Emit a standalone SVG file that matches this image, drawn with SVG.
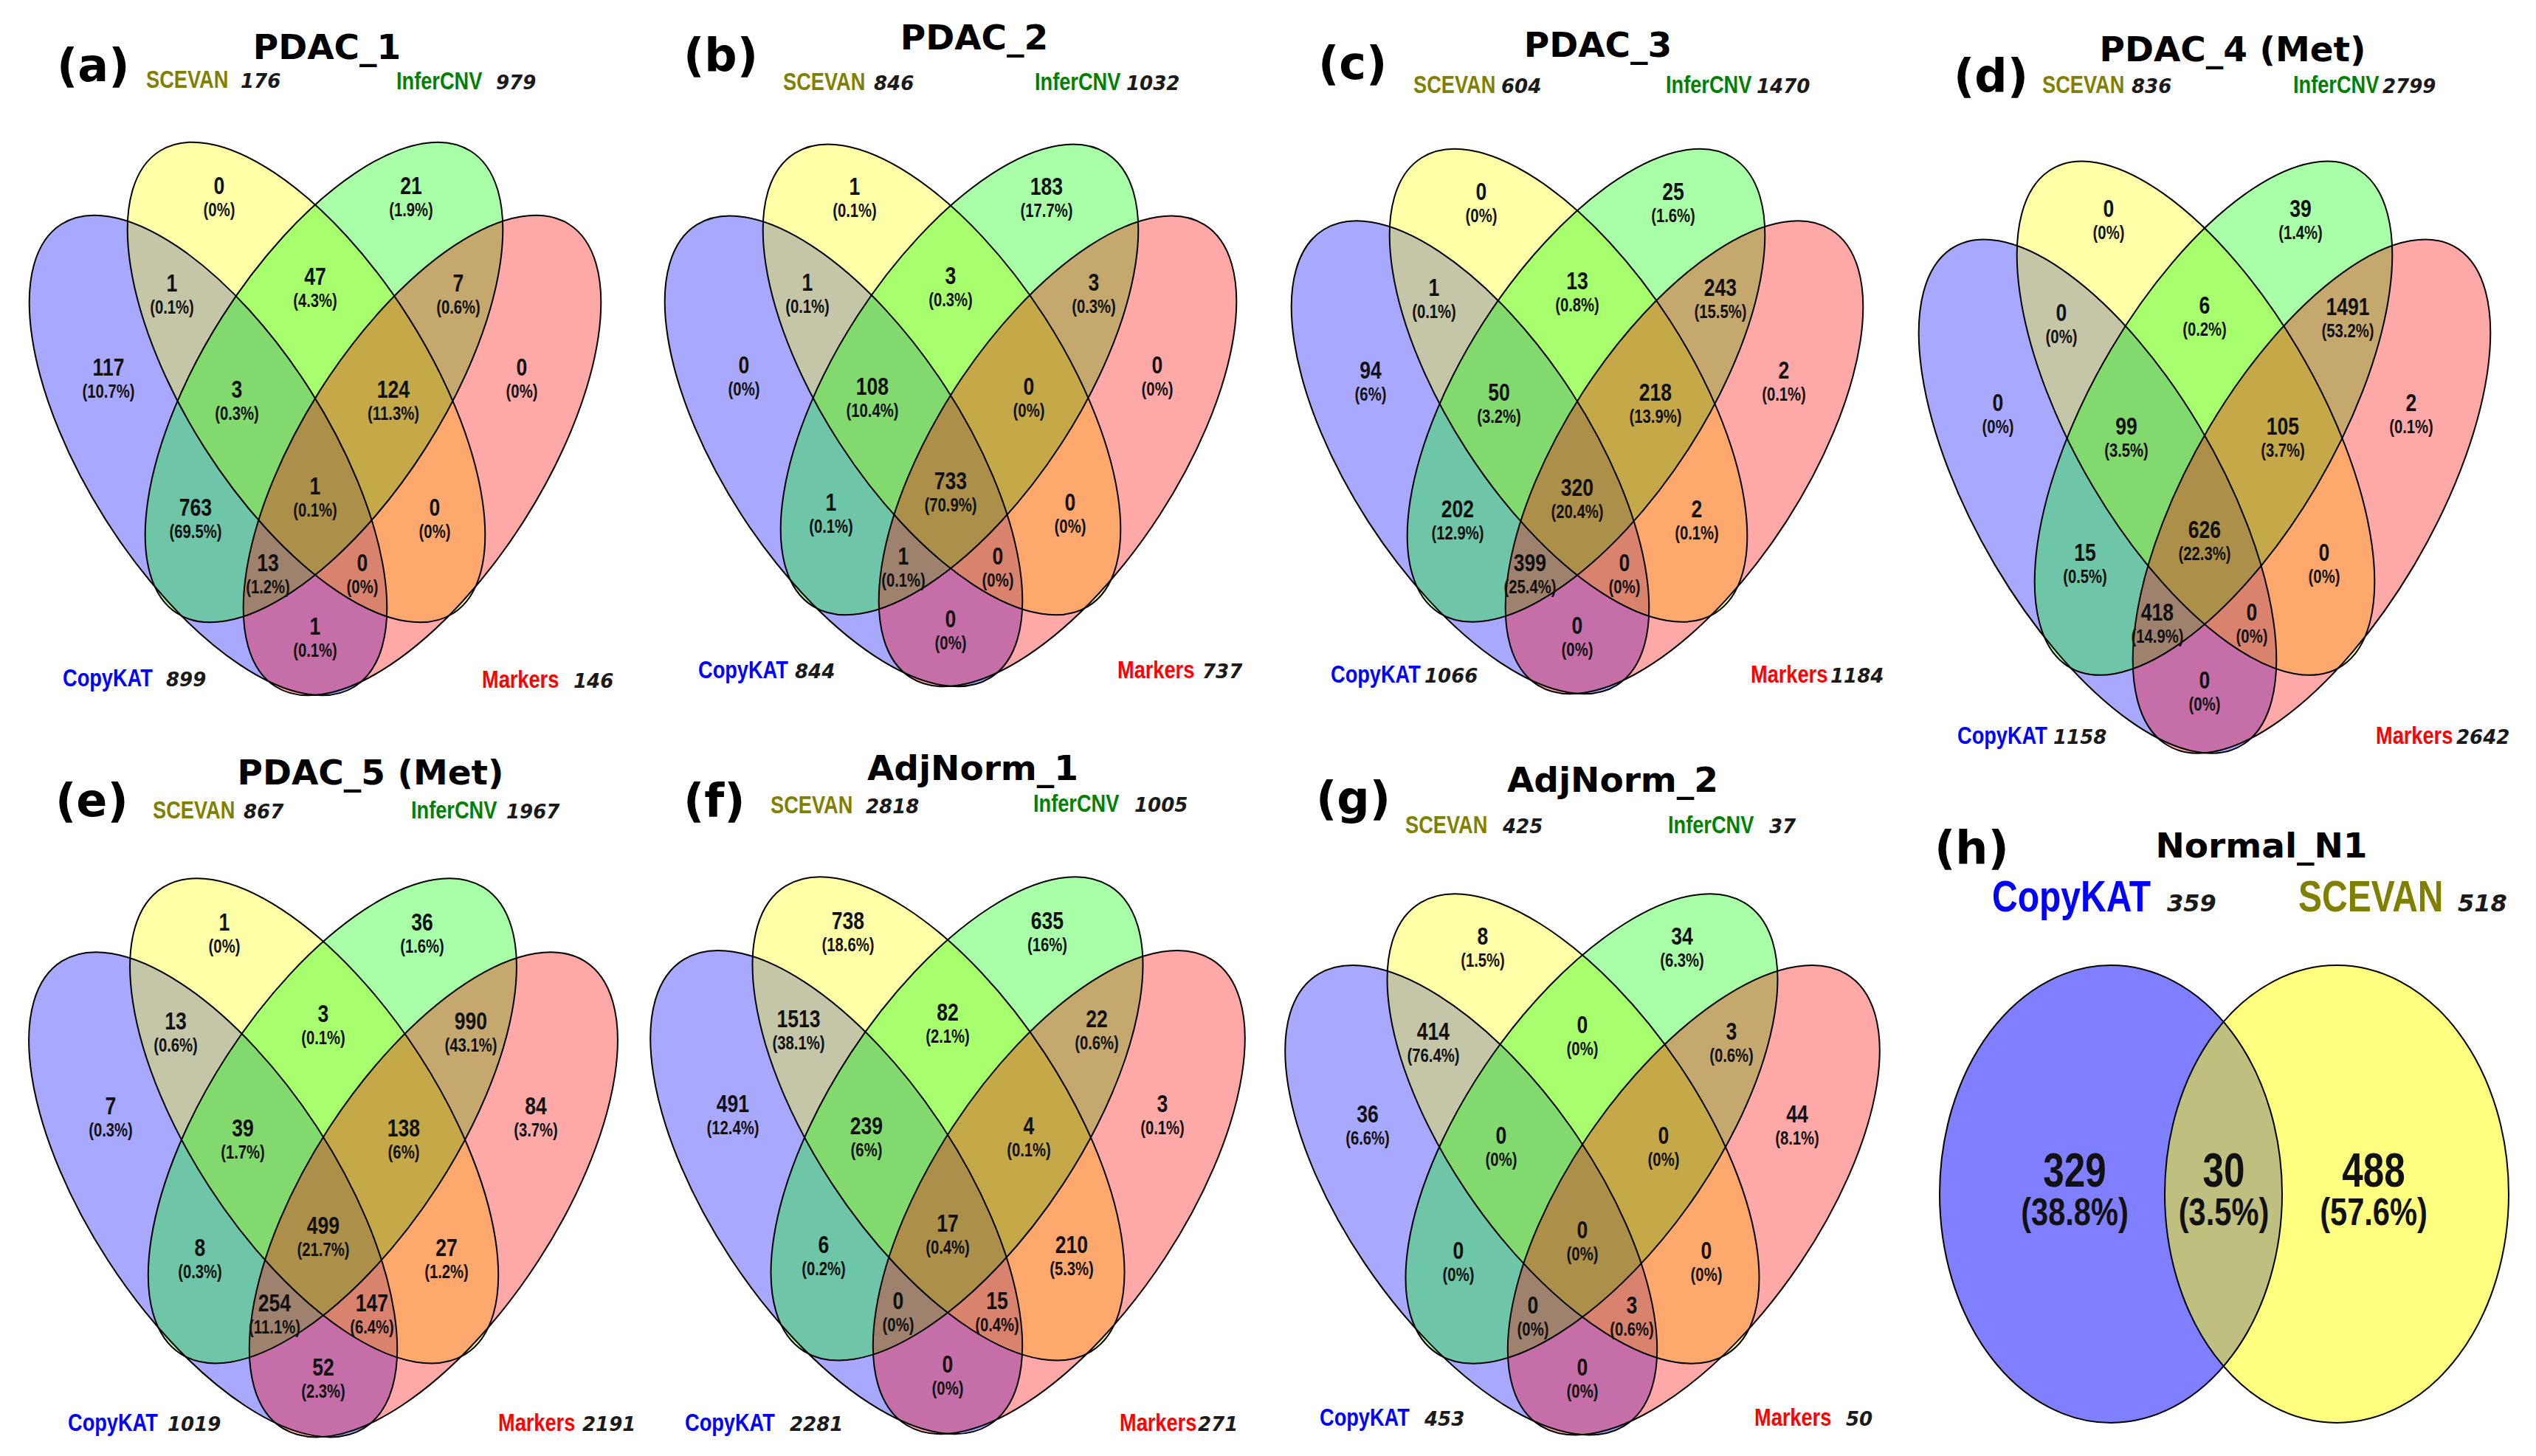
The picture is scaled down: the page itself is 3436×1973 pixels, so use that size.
<svg xmlns="http://www.w3.org/2000/svg" xmlns:xlink="http://www.w3.org/1999/xlink" width="3436" height="1973" viewBox="0 0 3436 1973">
<style>
.f{stroke:none;fill-opacity:0.34}
.o{fill:none;stroke:#000;stroke-width:2;vector-effect:non-scaling-stroke}
.cb{fill:#0000ff}.cy{fill:#ffff00}.cg{fill:#00ff00}.cr{fill:#ff0000}
.t{font-family:"DejaVu Sans",sans-serif;font-weight:bold;font-size:47px;text-anchor:middle;fill:#000}
.L{font-family:"DejaVu Sans",sans-serif;font-weight:bold;font-size:62px;fill:#000}
.c{font-family:"Liberation Sans",Arial,sans-serif;font-weight:bold;font-size:34px}
.k{font-family:"DejaVu Sans",sans-serif;font-weight:bold;font-style:italic;font-size:26px;fill:#1a1a1a}
.n{font-family:"Liberation Sans",Arial,sans-serif;font-weight:bold;font-size:34px;text-anchor:middle;fill:#111}
.p{font-size:26px}
.sv{fill:#808000}.ic{fill:#008000}.ck{fill:#0000ff}.mk{fill:#ff0000}
.n2{font-family:"Liberation Sans",Arial,sans-serif;font-weight:bold;font-size:64px;text-anchor:middle;fill:#111}
.p2{font-size:52px}
.c2{font-family:"Liberation Sans",Arial,sans-serif;font-weight:bold;font-size:60px}
</style>
<defs>
<g id="v4">
<ellipse class="f cb" cx="-145" cy="80" rx="371" ry="164" transform="rotate(57.6 -145 80)"/>
<ellipse class="f cy" cx="-12" cy="-19" rx="371" ry="164" transform="rotate(57.6 -12 -19)"/>
<ellipse class="f cg" cx="12" cy="-19" rx="371" ry="164" transform="rotate(-57.6 12 -19)"/>
<ellipse class="f cr" cx="145" cy="80" rx="371" ry="164" transform="rotate(-57.6 145 80)"/>
<ellipse class="o" cx="-145" cy="80" rx="371" ry="164" transform="rotate(57.6 -145 80)"/>
<ellipse class="o" cx="-12" cy="-19" rx="371" ry="164" transform="rotate(57.6 -12 -19)"/>
<ellipse class="o" cx="12" cy="-19" rx="371" ry="164" transform="rotate(-57.6 12 -19)"/>
<ellipse class="o" cx="145" cy="80" rx="371" ry="164" transform="rotate(-57.6 145 80)"/>
</g>
</defs>
<rect width="3436" height="1973" fill="#fff"/>

<!-- Panel a -->
<g id="panel-a">
<use xlink:href="#v4" href="#v4" transform="translate(427,537)"/>
<text class="L" x="77" y="110">(a)</text>
<text class="t" x="443" y="80">PDAC_1</text>
<text class="c sv" transform="translate(198,119) scale(.8,1)">SCEVAN</text><text class="k" x="326" y="119">176</text>
<text class="c ic" transform="translate(537,121) scale(.8,1)">InferCNV</text><text class="k" x="672" y="121">979</text>
<text class="c ck" transform="translate(85,930) scale(.8,1)">CopyKAT</text><text class="k" x="225" y="930">899</text>
<text class="c mk" transform="translate(653,932) scale(.8,1)">Markers</text><text class="k" x="777" y="932">146</text>
<g class="n" transform="translate(427,537)">
<text transform="translate(-130,-274) scale(.78,1)"><tspan x="0">0</tspan><tspan class="p" x="0" dy="30">(0%)</tspan></text>
<text transform="translate(130,-274) scale(.78,1)"><tspan x="0">21</tspan><tspan class="p" x="0" dy="30">(1.9%)</tspan></text>
<text transform="translate(-194,-142) scale(.78,1)"><tspan x="0">1</tspan><tspan class="p" x="0" dy="30">(0.1%)</tspan></text>
<text transform="translate(0,-151) scale(.78,1)"><tspan x="0">47</tspan><tspan class="p" x="0" dy="30">(4.3%)</tspan></text>
<text transform="translate(194,-142) scale(.78,1)"><tspan x="0">7</tspan><tspan class="p" x="0" dy="30">(0.6%)</tspan></text>
<text transform="translate(-280,-28) scale(.78,1)"><tspan x="0">117</tspan><tspan class="p" x="0" dy="30">(10.7%)</tspan></text>
<text transform="translate(-106,2) scale(.78,1)"><tspan x="0">3</tspan><tspan class="p" x="0" dy="30">(0.3%)</tspan></text>
<text transform="translate(106,2) scale(.78,1)"><tspan x="0">124</tspan><tspan class="p" x="0" dy="30">(11.3%)</tspan></text>
<text transform="translate(280,-28) scale(.78,1)"><tspan x="0">0</tspan><tspan class="p" x="0" dy="30">(0%)</tspan></text>
<text transform="translate(-162,162) scale(.78,1)"><tspan x="0">763</tspan><tspan class="p" x="0" dy="30">(69.5%)</tspan></text>
<text transform="translate(0,133) scale(.78,1)"><tspan x="0">1</tspan><tspan class="p" x="0" dy="30">(0.1%)</tspan></text>
<text transform="translate(162,162) scale(.78,1)"><tspan x="0">0</tspan><tspan class="p" x="0" dy="30">(0%)</tspan></text>
<text transform="translate(-64,237) scale(.78,1)"><tspan x="0">13</tspan><tspan class="p" x="0" dy="30">(1.2%)</tspan></text>
<text transform="translate(64,237) scale(.78,1)"><tspan x="0">0</tspan><tspan class="p" x="0" dy="30">(0%)</tspan></text>
<text transform="translate(0,323) scale(.78,1)"><tspan x="0">1</tspan><tspan class="p" x="0" dy="30">(0.1%)</tspan></text>
</g>
</g>

<!-- Panel b -->
<g id="panel-b">
<use xlink:href="#v4" href="#v4" transform="translate(1288,533) scale(1,0.98)"/>
<text class="L" x="926" y="96">(b)</text>
<text class="t" x="1320" y="67">PDAC_2</text>
<text class="c sv" transform="translate(1061,122) scale(.8,1)">SCEVAN</text><text class="k" x="1184" y="122">846</text>
<text class="c ic" transform="translate(1402,122) scale(.8,1)">InferCNV</text><text class="k" x="1526" y="122">1032</text>
<text class="c ck" transform="translate(946,919) scale(.8,1)">CopyKAT</text><text class="k" x="1077" y="919">844</text>
<text class="c mk" transform="translate(1514,919) scale(.8,1)">Markers</text><text class="k" x="1629" y="919">737</text>
<g class="n" transform="translate(1288,533)">
<text transform="translate(-130,-269) scale(.78,1)"><tspan x="0">1</tspan><tspan class="p" x="0" dy="30">(0.1%)</tspan></text>
<text transform="translate(130,-269) scale(.78,1)"><tspan x="0">183</tspan><tspan class="p" x="0" dy="30">(17.7%)</tspan></text>
<text transform="translate(-194,-139) scale(.78,1)"><tspan x="0">1</tspan><tspan class="p" x="0" dy="30">(0.1%)</tspan></text>
<text transform="translate(0,-148) scale(.78,1)"><tspan x="0">3</tspan><tspan class="p" x="0" dy="30">(0.3%)</tspan></text>
<text transform="translate(194,-139) scale(.78,1)"><tspan x="0">3</tspan><tspan class="p" x="0" dy="30">(0.3%)</tspan></text>
<text transform="translate(-280,-27) scale(.78,1)"><tspan x="0">0</tspan><tspan class="p" x="0" dy="30">(0%)</tspan></text>
<text transform="translate(-106,2) scale(.78,1)"><tspan x="0">108</tspan><tspan class="p" x="0" dy="30">(10.4%)</tspan></text>
<text transform="translate(106,2) scale(.78,1)"><tspan x="0">0</tspan><tspan class="p" x="0" dy="30">(0%)</tspan></text>
<text transform="translate(280,-27) scale(.78,1)"><tspan x="0">0</tspan><tspan class="p" x="0" dy="30">(0%)</tspan></text>
<text transform="translate(-162,159) scale(.78,1)"><tspan x="0">1</tspan><tspan class="p" x="0" dy="30">(0.1%)</tspan></text>
<text transform="translate(0,130) scale(.78,1)"><tspan x="0">733</tspan><tspan class="p" x="0" dy="30">(70.9%)</tspan></text>
<text transform="translate(162,159) scale(.78,1)"><tspan x="0">0</tspan><tspan class="p" x="0" dy="30">(0%)</tspan></text>
<text transform="translate(-64,232) scale(.78,1)"><tspan x="0">1</tspan><tspan class="p" x="0" dy="30">(0.1%)</tspan></text>
<text transform="translate(64,232) scale(.78,1)"><tspan x="0">0</tspan><tspan class="p" x="0" dy="30">(0%)</tspan></text>
<text transform="translate(0,317) scale(.78,1)"><tspan x="0">0</tspan><tspan class="p" x="0" dy="30">(0%)</tspan></text>
</g>
</g>

<!-- Panel c -->
<g id="panel-c">
<use xlink:href="#v4" href="#v4" transform="translate(2137,541) scale(1,0.985)"/>
<text class="L" x="1786" y="107">(c)</text>
<text class="t" x="2165" y="77">PDAC_3</text>
<text class="c sv" transform="translate(1915,126) scale(.8,1)">SCEVAN</text><text class="k" x="2034" y="126">604</text>
<text class="c ic" transform="translate(2257,126) scale(.8,1)">InferCNV</text><text class="k" x="2380" y="126">1470</text>
<text class="c ck" transform="translate(1803,925) scale(.8,1)">CopyKAT</text><text class="k" x="1930" y="925">1066</text>
<text class="c mk" transform="translate(2372,925) scale(.8,1)">Markers</text><text class="k" x="2480" y="925">1184</text>
<g class="n" transform="translate(2137,541)">
<text transform="translate(-130,-270) scale(.78,1)"><tspan x="0">0</tspan><tspan class="p" x="0" dy="30">(0%)</tspan></text>
<text transform="translate(130,-270) scale(.78,1)"><tspan x="0">25</tspan><tspan class="p" x="0" dy="30">(1.6%)</tspan></text>
<text transform="translate(-194,-140) scale(.78,1)"><tspan x="0">1</tspan><tspan class="p" x="0" dy="30">(0.1%)</tspan></text>
<text transform="translate(0,-149) scale(.78,1)"><tspan x="0">13</tspan><tspan class="p" x="0" dy="30">(0.8%)</tspan></text>
<text transform="translate(194,-140) scale(.78,1)"><tspan x="0">243</tspan><tspan class="p" x="0" dy="30">(15.5%)</tspan></text>
<text transform="translate(-280,-28) scale(.78,1)"><tspan x="0">94</tspan><tspan class="p" x="0" dy="30">(6%)</tspan></text>
<text transform="translate(-106,2) scale(.78,1)"><tspan x="0">50</tspan><tspan class="p" x="0" dy="30">(3.2%)</tspan></text>
<text transform="translate(106,2) scale(.78,1)"><tspan x="0">218</tspan><tspan class="p" x="0" dy="30">(13.9%)</tspan></text>
<text transform="translate(280,-28) scale(.78,1)"><tspan x="0">2</tspan><tspan class="p" x="0" dy="30">(0.1%)</tspan></text>
<text transform="translate(-162,160) scale(.78,1)"><tspan x="0">202</tspan><tspan class="p" x="0" dy="30">(12.9%)</tspan></text>
<text transform="translate(0,131) scale(.78,1)"><tspan x="0">320</tspan><tspan class="p" x="0" dy="30">(20.4%)</tspan></text>
<text transform="translate(162,160) scale(.78,1)"><tspan x="0">2</tspan><tspan class="p" x="0" dy="30">(0.1%)</tspan></text>
<text transform="translate(-64,233) scale(.78,1)"><tspan x="0">399</tspan><tspan class="p" x="0" dy="30">(25.4%)</tspan></text>
<text transform="translate(64,233) scale(.78,1)"><tspan x="0">0</tspan><tspan class="p" x="0" dy="30">(0%)</tspan></text>
<text transform="translate(0,318) scale(.78,1)"><tspan x="0">0</tspan><tspan class="p" x="0" dy="30">(0%)</tspan></text>
</g>
</g>

<!-- Panel d -->
<g id="panel-d">
<use xlink:href="#v4" href="#v4" transform="translate(2987,587) scale(1,1.07)"/>
<text class="L" x="2647" y="124">(d)</text>
<text class="t" x="3025" y="83">PDAC_4 (Met)</text>
<text class="c sv" transform="translate(2767,126) scale(.8,1)">SCEVAN</text><text class="k" x="2888" y="126">836</text>
<text class="c ic" transform="translate(3107,126) scale(.8,1)">InferCNV</text><text class="k" x="3228" y="126">2799</text>
<text class="c ck" transform="translate(2652,1008) scale(.8,1)">CopyKAT</text><text class="k" x="2782" y="1008">1158</text>
<text class="c mk" transform="translate(3219,1008) scale(.8,1)">Markers</text><text class="k" x="3328" y="1008">2642</text>
<g class="n" transform="translate(2987,587)">
<text transform="translate(-130,-293) scale(.78,1)"><tspan x="0">0</tspan><tspan class="p" x="0" dy="30">(0%)</tspan></text>
<text transform="translate(130,-293) scale(.78,1)"><tspan x="0">39</tspan><tspan class="p" x="0" dy="30">(1.4%)</tspan></text>
<text transform="translate(-194,-152) scale(.78,1)"><tspan x="0">0</tspan><tspan class="p" x="0" dy="30">(0%)</tspan></text>
<text transform="translate(0,-162) scale(.78,1)"><tspan x="0">6</tspan><tspan class="p" x="0" dy="30">(0.2%)</tspan></text>
<text transform="translate(194,-160) scale(.78,1)"><tspan x="0">1491</tspan><tspan class="p" x="0" dy="30">(53.2%)</tspan></text>
<text transform="translate(-280,-30) scale(.78,1)"><tspan x="0">0</tspan><tspan class="p" x="0" dy="30">(0%)</tspan></text>
<text transform="translate(-106,2) scale(.78,1)"><tspan x="0">99</tspan><tspan class="p" x="0" dy="30">(3.5%)</tspan></text>
<text transform="translate(106,2) scale(.78,1)"><tspan x="0">105</tspan><tspan class="p" x="0" dy="30">(3.7%)</tspan></text>
<text transform="translate(280,-30) scale(.78,1)"><tspan x="0">2</tspan><tspan class="p" x="0" dy="30">(0.1%)</tspan></text>
<text transform="translate(-162,173) scale(.78,1)"><tspan x="0">15</tspan><tspan class="p" x="0" dy="30">(0.5%)</tspan></text>
<text transform="translate(0,142) scale(.78,1)"><tspan x="0">626</tspan><tspan class="p" x="0" dy="30">(22.3%)</tspan></text>
<text transform="translate(162,173) scale(.78,1)"><tspan x="0">0</tspan><tspan class="p" x="0" dy="30">(0%)</tspan></text>
<text transform="translate(-64,254) scale(.78,1)"><tspan x="0">418</tspan><tspan class="p" x="0" dy="30">(14.9%)</tspan></text>
<text transform="translate(64,254) scale(.78,1)"><tspan x="0">0</tspan><tspan class="p" x="0" dy="30">(0%)</tspan></text>
<text transform="translate(0,346) scale(.78,1)"><tspan x="0">0</tspan><tspan class="p" x="0" dy="30">(0%)</tspan></text>
</g>
</g>

<!-- Panel e -->
<g id="panel-e">
<use xlink:href="#v4" href="#v4" transform="translate(438,1538) scale(1.03,1.01)"/>
<text class="L" x="75" y="1106">(e)</text>
<text class="t" x="502" y="1063">PDAC_5 (Met)</text>
<text class="c sv" transform="translate(207,1109) scale(.8,1)">SCEVAN</text><text class="k" x="330" y="1109">867</text>
<text class="c ic" transform="translate(557,1109) scale(.8,1)">InferCNV</text><text class="k" x="686" y="1109">1967</text>
<text class="c ck" transform="translate(92,1939) scale(.8,1)">CopyKAT</text><text class="k" x="227" y="1939">1019</text>
<text class="c mk" transform="translate(675,1939) scale(.8,1)">Markers</text><text class="k" x="789" y="1939">2191</text>
<g class="n" transform="translate(438,1538)">
<text transform="translate(-134,-277) scale(.78,1)"><tspan x="0">1</tspan><tspan class="p" x="0" dy="30">(0%)</tspan></text>
<text transform="translate(134,-277) scale(.78,1)"><tspan x="0">36</tspan><tspan class="p" x="0" dy="30">(1.6%)</tspan></text>
<text transform="translate(-200,-143) scale(.78,1)"><tspan x="0">13</tspan><tspan class="p" x="0" dy="30">(0.6%)</tspan></text>
<text transform="translate(0,-153) scale(.78,1)"><tspan x="0">3</tspan><tspan class="p" x="0" dy="30">(0.1%)</tspan></text>
<text transform="translate(200,-143) scale(.78,1)"><tspan x="0">990</tspan><tspan class="p" x="0" dy="30">(43.1%)</tspan></text>
<text transform="translate(-288,-28) scale(.78,1)"><tspan x="0">7</tspan><tspan class="p" x="0" dy="30">(0.3%)</tspan></text>
<text transform="translate(-109,2) scale(.78,1)"><tspan x="0">39</tspan><tspan class="p" x="0" dy="30">(1.7%)</tspan></text>
<text transform="translate(109,2) scale(.78,1)"><tspan x="0">138</tspan><tspan class="p" x="0" dy="30">(6%)</tspan></text>
<text transform="translate(288,-28) scale(.78,1)"><tspan x="0">84</tspan><tspan class="p" x="0" dy="30">(3.7%)</tspan></text>
<text transform="translate(-167,164) scale(.78,1)"><tspan x="0">8</tspan><tspan class="p" x="0" dy="30">(0.3%)</tspan></text>
<text transform="translate(0,134) scale(.78,1)"><tspan x="0">499</tspan><tspan class="p" x="0" dy="30">(21.7%)</tspan></text>
<text transform="translate(167,164) scale(.78,1)"><tspan x="0">27</tspan><tspan class="p" x="0" dy="30">(1.2%)</tspan></text>
<text transform="translate(-66,239) scale(.78,1)"><tspan x="0">254</tspan><tspan class="p" x="0" dy="30">(11.1%)</tspan></text>
<text transform="translate(66,239) scale(.78,1)"><tspan x="0">147</tspan><tspan class="p" x="0" dy="30">(6.4%)</tspan></text>
<text transform="translate(0,326) scale(.78,1)"><tspan x="0">52</tspan><tspan class="p" x="0" dy="30">(2.3%)</tspan></text>
</g>
</g>

<!-- Panel f -->
<g id="panel-f">
<use xlink:href="#v4" href="#v4" transform="translate(1284,1535) scale(1.04,1.007)"/>
<text class="L" x="926" y="1106">(f)</text>
<text class="t" x="1318" y="1057">AdjNorm_1</text>
<text class="c sv" transform="translate(1044,1102) scale(.8,1)">SCEVAN</text><text class="k" x="1173" y="1102">2818</text>
<text class="c ic" transform="translate(1400,1100) scale(.8,1)">InferCNV</text><text class="k" x="1537" y="1100">1005</text>
<text class="c ck" transform="translate(928,1939) scale(.8,1)">CopyKAT</text><text class="k" x="1070" y="1939">2281</text>
<text class="c mk" transform="translate(1517,1939) scale(.8,1)">Markers</text><text class="k" x="1623" y="1939">271</text>
<g class="n" transform="translate(1284,1535)">
<text transform="translate(-135,-276) scale(.78,1)"><tspan x="0">738</tspan><tspan class="p" x="0" dy="30">(18.6%)</tspan></text>
<text transform="translate(135,-276) scale(.78,1)"><tspan x="0">635</tspan><tspan class="p" x="0" dy="30">(16%)</tspan></text>
<text transform="translate(-202,-143) scale(.78,1)"><tspan x="0">1513</tspan><tspan class="p" x="0" dy="30">(38.1%)</tspan></text>
<text transform="translate(0,-152) scale(.78,1)"><tspan x="0">82</tspan><tspan class="p" x="0" dy="30">(2.1%)</tspan></text>
<text transform="translate(202,-143) scale(.78,1)"><tspan x="0">22</tspan><tspan class="p" x="0" dy="30">(0.6%)</tspan></text>
<text transform="translate(-291,-28) scale(.78,1)"><tspan x="0">491</tspan><tspan class="p" x="0" dy="30">(12.4%)</tspan></text>
<text transform="translate(-110,2) scale(.78,1)"><tspan x="0">239</tspan><tspan class="p" x="0" dy="30">(6%)</tspan></text>
<text transform="translate(110,2) scale(.78,1)"><tspan x="0">4</tspan><tspan class="p" x="0" dy="30">(0.1%)</tspan></text>
<text transform="translate(291,-28) scale(.78,1)"><tspan x="0">3</tspan><tspan class="p" x="0" dy="30">(0.1%)</tspan></text>
<text transform="translate(-168,163) scale(.78,1)"><tspan x="0">6</tspan><tspan class="p" x="0" dy="30">(0.2%)</tspan></text>
<text transform="translate(0,134) scale(.78,1)"><tspan x="0">17</tspan><tspan class="p" x="0" dy="30">(0.4%)</tspan></text>
<text transform="translate(168,163) scale(.78,1)"><tspan x="0">210</tspan><tspan class="p" x="0" dy="30">(5.3%)</tspan></text>
<text transform="translate(-67,239) scale(.78,1)"><tspan x="0">0</tspan><tspan class="p" x="0" dy="30">(0%)</tspan></text>
<text transform="translate(67,239) scale(.78,1)"><tspan x="0">15</tspan><tspan class="p" x="0" dy="30">(0.4%)</tspan></text>
<text transform="translate(0,325) scale(.78,1)"><tspan x="0">0</tspan><tspan class="p" x="0" dy="30">(0%)</tspan></text>
</g>
</g>

<!-- Panel g -->
<g id="panel-g">
<use xlink:href="#v4" href="#v4" transform="translate(2144,1548) scale(1.04,0.978)"/>
<text class="L" x="1783" y="1103">(g)</text>
<text class="t" x="2185" y="1073">AdjNorm_2</text>
<text class="c sv" transform="translate(1904,1129) scale(.8,1)">SCEVAN</text><text class="k" x="2036" y="1129">425</text>
<text class="c ic" transform="translate(2260,1129) scale(.8,1)">InferCNV</text><text class="k" x="2397" y="1129">37</text>
<text class="c ck" transform="translate(1788,1932) scale(.8,1)">CopyKAT</text><text class="k" x="1930" y="1932">453</text>
<text class="c mk" transform="translate(2377,1932) scale(.8,1)">Markers</text><text class="k" x="2501" y="1932">50</text>
<g class="n" transform="translate(2144,1548)">
<text transform="translate(-135,-268) scale(.78,1)"><tspan x="0">8</tspan><tspan class="p" x="0" dy="30">(1.5%)</tspan></text>
<text transform="translate(135,-268) scale(.78,1)"><tspan x="0">34</tspan><tspan class="p" x="0" dy="30">(6.3%)</tspan></text>
<text transform="translate(-202,-139) scale(.78,1)"><tspan x="0">414</tspan><tspan class="p" x="0" dy="30">(76.4%)</tspan></text>
<text transform="translate(0,-148) scale(.78,1)"><tspan x="0">0</tspan><tspan class="p" x="0" dy="30">(0%)</tspan></text>
<text transform="translate(202,-139) scale(.78,1)"><tspan x="0">3</tspan><tspan class="p" x="0" dy="30">(0.6%)</tspan></text>
<text transform="translate(-291,-27) scale(.78,1)"><tspan x="0">36</tspan><tspan class="p" x="0" dy="30">(6.6%)</tspan></text>
<text transform="translate(-110,2) scale(.78,1)"><tspan x="0">0</tspan><tspan class="p" x="0" dy="30">(0%)</tspan></text>
<text transform="translate(110,2) scale(.78,1)"><tspan x="0">0</tspan><tspan class="p" x="0" dy="30">(0%)</tspan></text>
<text transform="translate(291,-27) scale(.78,1)"><tspan x="0">44</tspan><tspan class="p" x="0" dy="30">(8.1%)</tspan></text>
<text transform="translate(-168,158) scale(.78,1)"><tspan x="0">0</tspan><tspan class="p" x="0" dy="30">(0%)</tspan></text>
<text transform="translate(0,130) scale(.78,1)"><tspan x="0">0</tspan><tspan class="p" x="0" dy="30">(0%)</tspan></text>
<text transform="translate(168,158) scale(.78,1)"><tspan x="0">0</tspan><tspan class="p" x="0" dy="30">(0%)</tspan></text>
<text transform="translate(-67,232) scale(.78,1)"><tspan x="0">0</tspan><tspan class="p" x="0" dy="30">(0%)</tspan></text>
<text transform="translate(67,232) scale(.78,1)"><tspan x="0">3</tspan><tspan class="p" x="0" dy="30">(0.6%)</tspan></text>
<text transform="translate(0,316) scale(.78,1)"><tspan x="0">0</tspan><tspan class="p" x="0" dy="30">(0%)</tspan></text>
</g>
</g>

<!-- Panel h -->
<g id="panel-h">
<ellipse cx="2860" cy="1618" rx="232" ry="310" fill="#0000ff" fill-opacity="0.5"/>
<ellipse cx="3166" cy="1618" rx="233" ry="310" fill="#ffff00" fill-opacity="0.5"/>
<ellipse cx="2860" cy="1618" rx="232" ry="310" class="o"/>
<ellipse cx="3166" cy="1618" rx="233" ry="310" class="o"/>
<text class="L" x="2621" y="1170">(h)</text>
<text class="t" x="3064" y="1162">Normal_N1</text>
<text class="c2 ck" transform="translate(2699,1235) scale(.8,1)">CopyKAT</text><text class="k" x="2936" y="1235" style="font-size:32px">359</text>
<text class="c2 sv" transform="translate(3114,1235) scale(.8,1)">SCEVAN</text><text class="k" x="3330" y="1235" style="font-size:32px">518</text>
<g class="n2">
<text transform="translate(2811,1608) scale(.8,1)"><tspan x="0">329</tspan><tspan class="p2" x="0" dy="52">(38.8%)</tspan></text>
<text transform="translate(3013,1608) scale(.8,1)"><tspan x="0">30</tspan><tspan class="p2" x="0" dy="52">(3.5%)</tspan></text>
<text transform="translate(3216,1608) scale(.8,1)"><tspan x="0">488</tspan><tspan class="p2" x="0" dy="52">(57.6%)</tspan></text>
</g>
</g>
</svg>
